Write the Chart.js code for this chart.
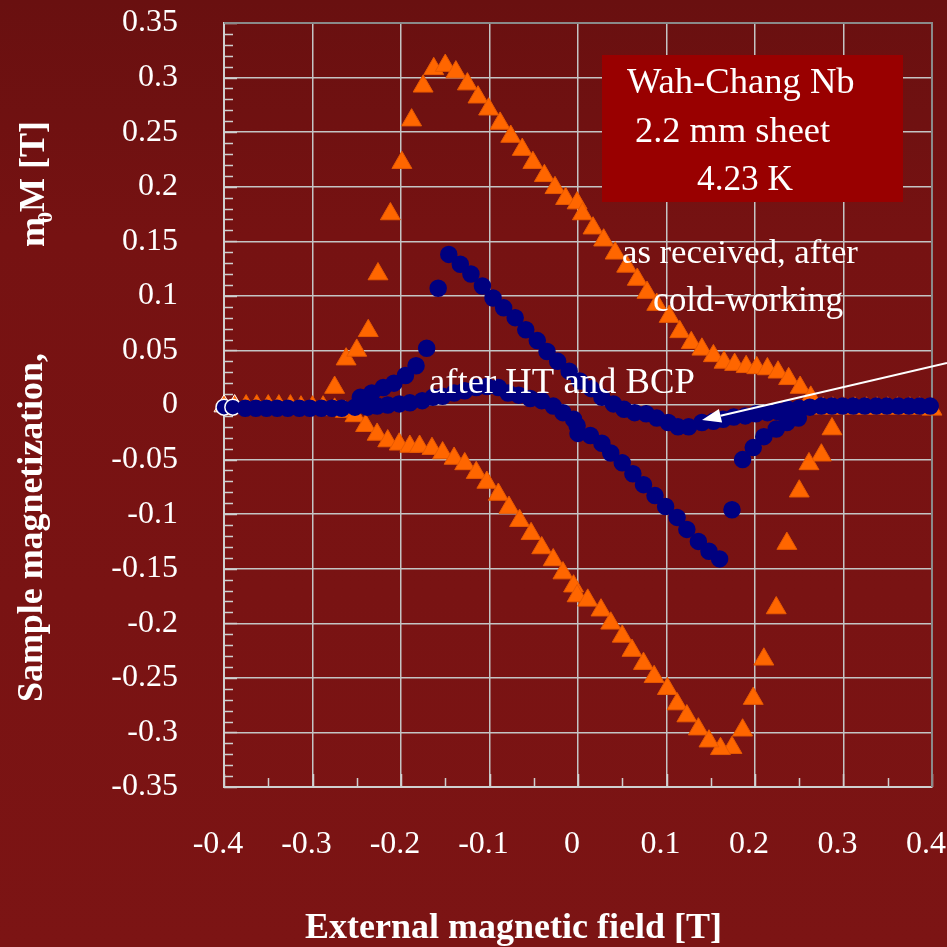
<!DOCTYPE html>
<html lang="en">
<head>
<meta charset="UTF-8">
<title>Wah-Chang Nb magnetization</title>
<script src="https://cdn.jsdelivr.net/npm/chart.js"></script>
<style>
    html, body { margin: 0; padding: 0; }
    body {
        width: 947px; height: 947px; overflow: hidden;
        background: linear-gradient(to bottom, #691010 0%, #761212 25%, #7c1414 100%);
    }
    canvas { display: block; }
</style>
</head>
<body>
<canvas id="chart" width="947" height="947"></canvas>
<script>
// tick values
const xTickValues = [-0.4, -0.3, -0.2, -0.1, 0, 0.1, 0.2, 0.3, 0.4];
const yTickValues = [-0.35, -0.3, -0.25, -0.2, -0.15, -0.1, -0.05, 0, 0.05, 0.1, 0.15, 0.2, 0.25, 0.3, 0.35];

// "as received, after cold-working" (orange triangles)
const asReceivedX = [
    -0.400, -0.388, -0.375, -0.363, -0.350, -0.338, -0.325, -0.313, -0.300, -0.288, -0.275, -0.263,
    -0.275, -0.262, -0.250, -0.237, -0.226, -0.212, -0.199, -0.188, -0.175, -0.163, -0.150,
    -0.138, -0.125, -0.113, -0.101, -0.088, -0.076, -0.063, -0.051, -0.038, -0.026, -0.014, -0.001,
    0.005, 0.017, 0.029, 0.042, 0.055, 0.067, 0.078, 0.089, 0.103, 0.115, 0.128, 0.140, 0.153,
    0.165, 0.177, 0.190, 0.202, 0.214, 0.226, 0.238, 0.251, 0.263,
    0.277, 0.288, 0.300, 0.313, 0.326, 0.338, 0.350, 0.361, 0.375, 0.386, 0.400,
    0.287, 0.275, 0.261, 0.250, 0.236, 0.224, 0.210, 0.198, 0.186, 0.174, 0.161,
    -0.252, -0.240, -0.227, -0.215, -0.202, -0.190, -0.179, -0.165, -0.153, -0.140, -0.128, -0.115,
    -0.103, -0.090, -0.078, -0.066, -0.053, -0.041, -0.028, -0.017, -0.005, -0.001, 0.011, 0.026,
    0.037, 0.050, 0.061, 0.074, 0.086, 0.101, 0.112, 0.123, 0.136, 0.148
];
const asReceivedY = [
    -0.001, -0.001, -0.001, -0.001, -0.001, -0.001, -0.001, -0.002, -0.002, -0.002, -0.004, -0.006,
    0.016, 0.042, 0.050, 0.068, 0.120, 0.175, 0.222, 0.261, 0.292, 0.308, 0.311,
    0.305, 0.294, 0.282, 0.271, 0.258, 0.246, 0.234, 0.222, 0.210, 0.199, 0.189, 0.185,
    0.175, 0.162, 0.151, 0.139, 0.127, 0.115, 0.103, 0.092, 0.081, 0.067, 0.057, 0.051, 0.045,
    0.039, 0.037, 0.035, 0.034, 0.033, 0.030, 0.024, 0.016, 0.007,
    -0.003, -0.003, -0.003, -0.003, -0.003, -0.003, -0.003, -0.003, -0.003, -0.003, -0.004,
    -0.022, -0.046, -0.054, -0.079, -0.127, -0.186, -0.233, -0.269, -0.298, -0.314, -0.315,
    -0.010, -0.019, -0.027, -0.033, -0.036, -0.038, -0.038, -0.040, -0.044, -0.049, -0.054, -0.062,
    -0.071, -0.082, -0.094, -0.106, -0.118, -0.131, -0.142, -0.154, -0.166, -0.175, -0.179, -0.188,
    -0.200, -0.212, -0.225, -0.237, -0.249, -0.260, -0.274, -0.285, -0.297, -0.308
];

// "after HT and BCP" (navy circles)
const afterHtX = [
    -0.400, -0.390, -0.376, -0.364, -0.352, -0.340, -0.328, -0.315, -0.303, -0.290, -0.278, -0.267,
    -0.252, -0.238, -0.227, -0.215, -0.202,
    -0.246, -0.233, -0.220, -0.208, -0.195, -0.183, -0.171, -0.158, -0.146, -0.133, -0.121, -0.108,
    -0.096, -0.084, -0.071, -0.059, -0.046, -0.035, -0.023, -0.010, 0.002, 0.015, 0.027, 0.040,
    0.052, 0.064, 0.077, 0.089, 0.102, 0.113, 0.125, 0.140, 0.153, 0.164, 0.176, 0.189, 0.201,
    0.214, 0.226, 0.237, 0.250, 0.262,
    0.275, 0.287, 0.299, 0.311, 0.324, 0.337, 0.349, 0.362, 0.374, 0.386, 0.398,
    0.249, 0.236, 0.224, 0.210, 0.198, 0.186, 0.174,
    -0.190, -0.176, -0.164, -0.153, -0.140, -0.128, -0.115, -0.103, -0.090, -0.079, -0.067, -0.054,
    -0.041, -0.028, -0.017, -0.005, -0.001, 0.000, 0.014, 0.027, 0.037, 0.050, 0.062, 0.074,
    0.087, 0.099, 0.112, 0.123, 0.136, 0.148, 0.160
];
const afterHtY = [
    -0.002, -0.002, -0.003, -0.003, -0.003, -0.003, -0.003, -0.003, -0.003, -0.003, -0.003, -0.003,
    -0.002, -0.002, -0.001, 0.000, 0.001,
    0.007, 0.011, 0.016, 0.020, 0.027, 0.036, 0.052, 0.107, 0.138, 0.129, 0.120, 0.109,
    0.098, 0.089, 0.080, 0.069, 0.059, 0.049, 0.040, 0.031, 0.022, 0.015, 0.007, 0.001,
    -0.004, -0.007, -0.008, -0.012, -0.016, -0.020, -0.020, -0.016, -0.015, -0.013, -0.011, -0.010, -0.008,
    -0.007, -0.006, -0.004, -0.003, -0.002,
    -0.001, -0.001, -0.001, -0.001, -0.001, -0.001, -0.001, -0.001, -0.001, -0.001, -0.001,
    -0.012, -0.016, -0.022, -0.029, -0.039, -0.050, -0.096,
    0.002, 0.004, 0.007, 0.008, 0.011, 0.013, 0.016, 0.017, 0.016, 0.011, 0.009, 0.006,
    0.004, -0.001, -0.007, -0.013, -0.019, -0.026, -0.028, -0.035, -0.044, -0.053, -0.063, -0.073,
    -0.083, -0.093, -0.103, -0.114, -0.125, -0.134, -0.141
];

const FONT = "'Liberation Serif', 'DejaVu Serif', serif";
const ORANGE = '#ff6600';
const NAVY = '#000080';

function toPoints(xs, ys) {
    return xs.map((x, i) => ({ x: x, y: ys[i] }));
}

// first two measured points are drawn with a white outline
function edgeColors(n, color) {
    return Array.from({ length: n }, (_, i) => i < 2 ? '#ffffff' : color);
}

function fitText(ctx, text, left, baseline, width, weight) {
    ctx.font = weight + ' 100px ' + FONT;
    const size = 100 * width / ctx.measureText(text).width;
    ctx.font = weight + ' ' + size.toFixed(1) + 'px ' + FONT;
    ctx.fillText(text, left, baseline);
}

const decor = {
    id: 'decor',
    beforeDatasetsDraw(chart) {
        const ctx = chart.ctx;
        const a = chart.chartArea;
        const xs = chart.scales.x, ys = chart.scales.y;
        ctx.save();
        // minor + major tick marks drawn inside the plot
        ctx.strokeStyle = '#d0d0d0';
        ctx.lineWidth = 1.5;
        ctx.beginPath();
        for (let i = -35; i <= 35; i++) {
            const py = Math.round(ys.getPixelForValue(i / 100)) + 0.5;
            const len = i % 5 === 0 ? 13 : 9;
            ctx.moveTo(a.left, py);
            ctx.lineTo(a.left + len, py);
        }
        for (let i = -8; i <= 8; i++) {
            const px = Math.round(xs.getPixelForValue(i / 20)) + 0.5;
            const len = i % 2 === 0 ? 13 : 9;
            ctx.moveTo(px, a.bottom);
            ctx.lineTo(px, a.bottom - len);
        }
        ctx.stroke();
        // darker frame on top and right
        ctx.strokeStyle = '#8a8a8a';
        ctx.lineWidth = 2;
        ctx.beginPath();
        ctx.moveTo(a.left, a.top);
        ctx.lineTo(a.right, a.top);
        ctx.lineTo(a.right, a.bottom);
        ctx.stroke();
        // label box
        ctx.fillStyle = '#990000';
        ctx.fillRect(602, 55, 301, 147);
        ctx.restore();
    },
    afterDatasetsDraw(chart) {
        const ctx = chart.ctx;
        ctx.save();
        ctx.fillStyle = '#ffffff';
        ctx.textAlign = 'left';
        ctx.textBaseline = 'alphabetic';
        fitText(ctx, 'Wah-Chang Nb', 627, 93, 228, 'normal');
        fitText(ctx, '2.2 mm sheet', 635, 142, 195, 'normal');
        fitText(ctx, '4.23 K', 697, 190, 96, 'normal');
        fitText(ctx, 'as received, after', 622, 263, 236, 'normal');
        fitText(ctx, 'cold-working', 653, 311, 190, 'normal');
        fitText(ctx, 'after HT and BCP', 429, 393, 266, 'normal');

        // arrow pointing at the HT/BCP curve
        const x0 = 947, y0 = 363, x1 = 702, y1 = 420;
        const ang = Math.atan2(y1 - y0, x1 - x0);
        const headLen = 19, headHalf = 7;
        const bx = x1 - Math.cos(ang) * headLen, by = y1 - Math.sin(ang) * headLen;
        ctx.strokeStyle = '#ffffff';
        ctx.lineWidth = 2;
        ctx.beginPath();
        ctx.moveTo(x0, y0);
        ctx.lineTo(bx, by);
        ctx.stroke();
        ctx.beginPath();
        ctx.moveTo(x1, y1);
        ctx.lineTo(bx - Math.sin(ang) * headHalf, by + Math.cos(ang) * headHalf);
        ctx.lineTo(bx + Math.sin(ang) * headHalf, by - Math.cos(ang) * headHalf);
        ctx.closePath();
        ctx.fill();
        ctx.restore();
    },
    afterDraw(chart) {
        const ctx = chart.ctx;
        ctx.save();
        ctx.fillStyle = '#ffffff';
        ctx.textBaseline = 'alphabetic';
        // x axis title
        ctx.textAlign = 'left';
        fitText(ctx, 'External magnetic field [T]', 305, 938, 417, 'bold');

        // y axis title, rotated
        ctx.save();
        ctx.translate(42, 702);
        ctx.rotate(-Math.PI / 2);
        fitText(ctx, 'Sample magnetization,', 0, 0, 349, 'bold');
        ctx.restore();

        ctx.save();
        ctx.translate(44, 247);
        ctx.rotate(-Math.PI / 2);
        ctx.font = 'bold 36px ' + FONT;
        ctx.fillText('m', 0, 0);
        let w = ctx.measureText('m').width;
        ctx.font = 'bold 22px ' + FONT;
        ctx.fillText('0', w - 6, 8);
        w += ctx.measureText('0').width - 6;
        ctx.font = 'bold 36px ' + FONT;
        ctx.fillText('M [T]', w, 0);
        ctx.restore();
        ctx.restore();
    }
};

new Chart(document.getElementById('chart'), {
    type: 'scatter',
    data: {
        datasets: [
            {
                label: 'after HT and BCP',
                data: toPoints(afterHtX, afterHtY),
                pointStyle: 'circle',
                pointRadius: 8,
                pointBackgroundColor: NAVY,
                pointBorderColor: edgeColors(afterHtX.length, NAVY),
                pointBorderWidth: 1.5,
                clip: false,
                order: 1
            },
            {
                label: 'as received, after cold-working',
                data: toPoints(asReceivedX, asReceivedY),
                pointStyle: 'triangle',
                pointRadius: 11.5,
                pointBackgroundColor: ORANGE,
                pointBorderColor: edgeColors(asReceivedX.length, '#e85a00'),
                pointBorderWidth: 1,
                clip: false,
                order: 2
            }
        ]
    },
    options: {
        responsive: false,
        animation: false,
        events: [],
        layout: { padding: { left: 0, right: 15, top: 23, bottom: 0 } },
        plugins: {
            legend: { display: false },
            tooltip: { enabled: false }
        },
        scales: {
            x: {
                type: 'linear',
                min: -0.4,
                max: 0.4,
                afterBuildTicks: s => { s.ticks = xTickValues.map(v => ({ value: v })); },
                afterFit: s => { s.height = 160; s.paddingLeft = 0; s.paddingRight = 0; },
                grid: { color: '#c4c4c4', lineWidth: 1.5, drawTicks: false },
                border: { color: '#cfcfcf', width: 2 },
                ticks: {
                    color: '#ffffff',
                    font: { family: FONT, size: 32 },
                    padding: 38,
                    labelOffset: -6,
                    maxRotation: 0,
                    callback: v => String(Math.round(v * 100) / 100)
                }
            },
            y: {
                type: 'linear',
                min: -0.35,
                max: 0.35,
                afterBuildTicks: s => { s.ticks = yTickValues.map(v => ({ value: v })); },
                afterFit: s => { s.width = 224; s.paddingTop = 0; s.paddingBottom = 0; },
                grid: { color: '#c4c4c4', lineWidth: 1.5, drawTicks: false },
                border: { color: '#cfcfcf', width: 2 },
                ticks: {
                    color: '#ffffff',
                    font: { family: FONT, size: 32 },
                    padding: 46,
                    callback: v => String(Math.round(v * 100) / 100)
                }
            }
        }
    },
    plugins: [decor]
});
</script>
</body>
</html>
